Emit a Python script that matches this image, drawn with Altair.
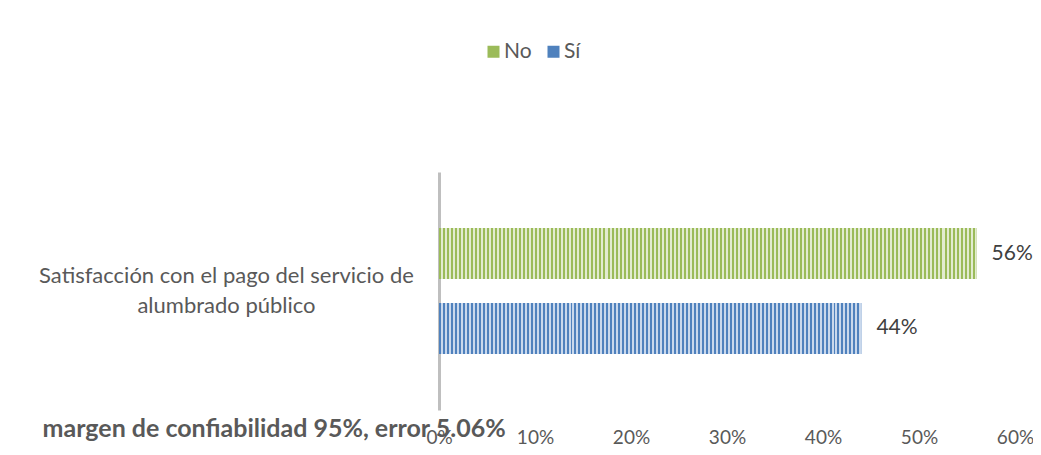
import altair as alt
import pandas as pd

# Data
category = "Satisfacción con el pago del servicio de\nalumbrado público"
series = ["No", "Sí"]
values = [0.56, 0.44]
colors_dark = ["#9BBB59", "#4F81BD"]
colors_light = ["#E2EBD0", "#C9D8EC"]

df = pd.DataFrame({"cat": [category] * 2, "serie": series, "valor": values})

PLOT_W = 576
PLOT_H = 238
X_MAX = 0.6
PERIOD = 4.0
FONT = "Lato"
GRAY = "#595959"


def stripes(dark, light, width_px):
    n = max(1, round(width_px / PERIOD))
    stops = []
    for i in range(n):
        a = i / n
        m = (i + 0.5) / n
        b = (i + 1) / n
        stops += [
            {"offset": a, "color": dark},
            {"offset": m, "color": dark},
            {"offset": m, "color": light},
            {"offset": b, "color": light},
        ]
    return alt.LinearGradient(gradient="linear", stops=stops, x1=0, x2=1, y1=0, y2=0)


x_enc = alt.X(
    "valor:Q",
    scale=alt.Scale(domain=[0, X_MAX], nice=False),
    axis=alt.Axis(
        format=".0%",
        values=[0, 0.1, 0.2, 0.3, 0.4, 0.5, 0.6],
        grid=False,
        domain=False,
        ticks=False,
        labelFlush=False,
        labelPadding=18,
        labelFontSize=19,
        labelColor=GRAY,
        labelFont=FONT,
        title="margen de confiabilidad 95%, error 5.06%",
        titleX=-397,
        titleY=18,
        titleAlign="left",
        titleAnchor="start",
        titleBaseline="middle",
        titleFontSize=25,
        titleFontWeight="bold",
        titleColor=GRAY,
        titleFont=FONT,
    ),
)
y_enc = alt.Y(
    "cat:N",
    scale=alt.Scale(paddingInner=0, paddingOuter=0),
    axis=alt.Axis(
        title=None,
        labelExpr="split(datum.label, '\\n')",
        labelAlign="center",
        labelBaseline="middle",
        labelOffset=-15,
        labelPadding=213,
        labelFontSize=22,
        labelLineHeight=30,
        labelColor=GRAY,
        labelFont=FONT,
        labelLimit=600,
        ticks=False,
        domainColor="#BFBFBF",
        domainWidth=3,
    ),
)
yoff_enc = alt.YOffset(
    "serie:N",
    sort=series,
    scale=alt.Scale(domain=series, paddingInner=0.32, paddingOuter=0.747),
)

base = alt.Chart(df)

legend_bars = base.mark_bar().encode(
    x=x_enc,
    y=y_enc,
    yOffset=yoff_enc,
    color=alt.Color(
        "serie:N",
        scale=alt.Scale(domain=series, range=colors_dark),
        legend=alt.Legend(
            title=None,
            orient="none",
            direction="horizontal",
            legendX=44,
            legendY=-131,
            padding=0,
            symbolType="square",
            symbolSize=144,
            symbolStrokeWidth=0,
            symbolOpacity=1,
            symbolOffset=0,
            labelFontSize=21,
            labelColor=GRAY,
            labelFont=FONT,
            columnPadding=11,
            labelOffset=0,
        ),
    ),
)

layers = [legend_bars]
for s, v, d, l in zip(series, values, colors_dark, colors_light):
    w = v / X_MAX * PLOT_W
    layers.append(
        base.transform_filter(alt.datum.serie == s)
        .mark_bar(color=stripes(d, l, w))
        .encode(x=x_enc, y=y_enc, yOffset=yoff_enc)
    )

labels = base.mark_text(
    align="left", baseline="middle", dx=15, fontSize=21, color="#404040", font=FONT
).encode(
    x=x_enc,
    y=y_enc,
    yOffset=yoff_enc,
    text=alt.Text("valor:Q", format=".0%"),
)
layers.append(labels)

chart = (
    alt.layer(*layers)
    .properties(
        width=PLOT_W,
        height=PLOT_H,
        background="white",
        autosize=alt.AutoSizeParams(type="none"),
        padding={"left": 431, "top": 164, "right": 18, "bottom": 37},
    )
    .configure_view(strokeWidth=0, stroke="transparent")
)

chart.save("out.html", embed_options={"renderer": "svg", "actions": False})
